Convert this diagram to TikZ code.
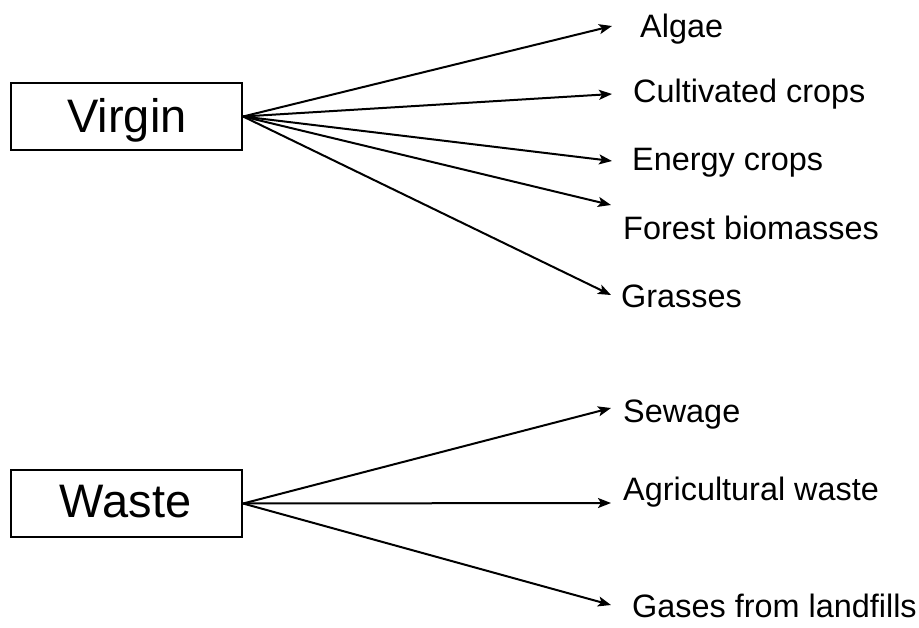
\documentclass[tikz,border=0pt]{standalone}
\usepackage{fontspec}
\setmainfont{Liberation Sans}
\usetikzlibrary{arrows.meta}
\begin{document}
\begin{tikzpicture}[x=1pt,y=-1pt,
  srcbox/.style={draw,line width=2.2pt,minimum width=231pt,minimum height=67pt,inner sep=0pt},
  srctext/.style={anchor=base,inner sep=0pt,font=\fontsize{47}{50}\selectfont},
  item/.style={anchor=base west,inner sep=0pt,font=\fontsize{32.4}{36}\selectfont},
  link/.style={line width=2pt,-{Stealth[length=13pt,width=10pt,inset=3pt]}}]
\useasboundingbox (0,0) rectangle (919,627);
\node[srcbox] (virgin) at (126.5,116.5) {};
\node[srctext] (vt) at (127,132) {Virgin};
\node[srcbox] (waste) at (126.5,503.5) {};
\node[srctext] (wt) at (125.5,517) {Waste};
\node[item] (algae) at (640,37) {Algae};
\node[item] (cult) at (633,102) {Cultivated crops};
\node[item] (energy) at (632,170) {Energy crops};
\node[item] (forest) at (623,239) {Forest biomasses};
\node[item] (grass) at (621,307) {Grasses};
\node[item] (sewage) at (623,422) {Sewage};
\node[item] (agri) at (623,500) {Agricultural waste};
\node[item] (gases) at (632,617) {Gases from landfills};
\coordinate (ta) at (612,26);
\coordinate (tc) at (612,94);
\coordinate (te) at (612,161);
\coordinate (tf) at (611,205);
\coordinate (tg) at (611,295);
\coordinate (ts) at (611,408);
\coordinate (tr) at (611,503);
\coordinate (tl) at (611,605);
\foreach \t in {ta,tc,te,tf,tg} \draw[link] (virgin.east) -- (\t);
\foreach \t in {ts,tr,tl} \draw[link] (waste.east) -- (\t);
\end{tikzpicture}
\end{document}
